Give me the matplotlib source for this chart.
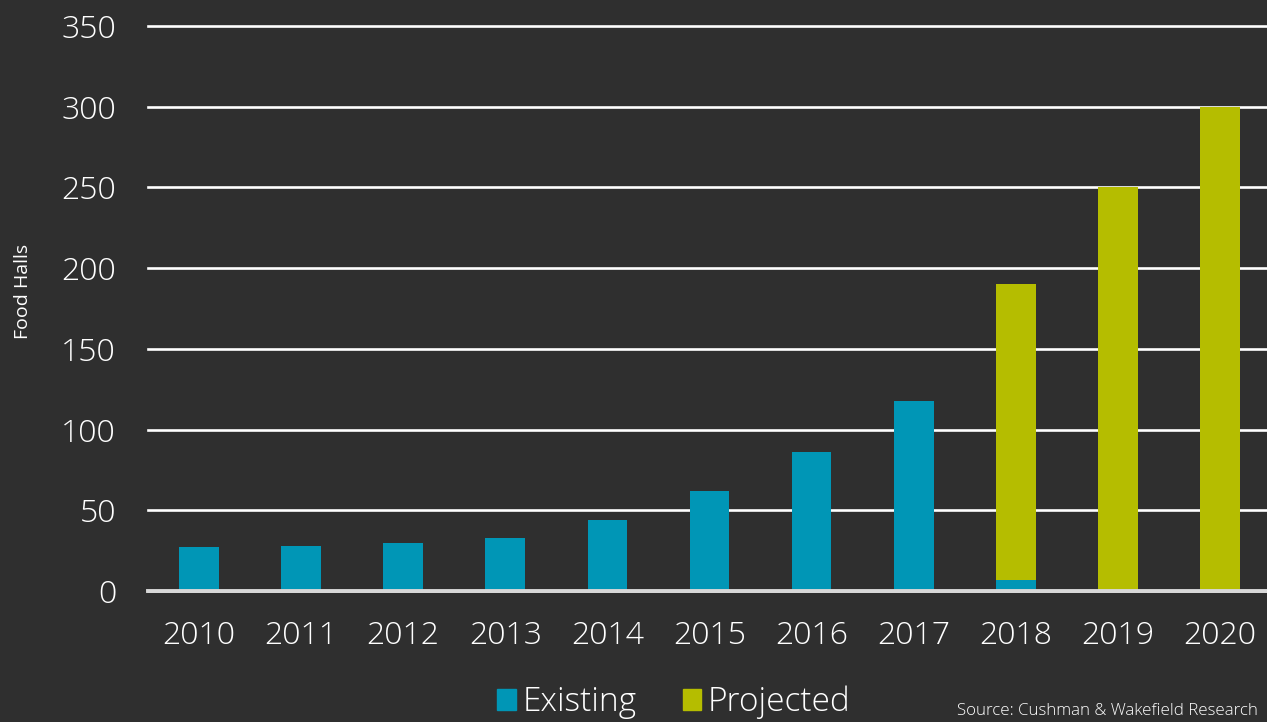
import matplotlib
matplotlib.use("Agg")
import matplotlib.pyplot as plt
from matplotlib.patches import Patch

years = ["2010", "2011", "2012", "2013", "2014", "2015", "2016", "2017", "2018", "2019", "2020"]
existing = [27, 28, 30, 33, 44, 62, 86, 118, 7, 0, 0]
projected = [0, 0, 0, 0, 0, 0, 0, 0, 183, 250, 300]
yticks = [0, 50, 100, 150, 200, 250, 300, 350]

teal = "#0096b6"
olive = "#b5bd00"
bg = "#2f2f2f"

plt.rcParams["font.family"] = ["Open Sans", "DejaVu Sans"]
plt.rcParams["font.weight"] = "light"

fig = plt.figure(figsize=(12.67, 7.22), dpi=100, facecolor=bg)
ax = fig.add_axes([148 / 1267, 131 / 722, 1123 / 1267, 565 / 722])
ax.set_facecolor(bg)

x = list(range(len(years)))
ax.bar(x, existing, width=0.39, color=teal, zorder=3)
ax.bar(x, projected, width=0.39, bottom=existing, color=olive, zorder=3)

ax.set_xlim(-0.5, 10.5)
ax.set_ylim(0, 350)
ax.set_yticks(yticks)
ax.set_xticks(x)
ax.set_xticklabels(years)
ax.tick_params(axis="both", length=0, colors="white", labelsize=23)
ax.tick_params(axis="y", pad=23)
ax.tick_params(axis="x", pad=21)

ax.grid(axis="y", color="white", linewidth=1.9, zorder=1)
for line in ax.get_ygridlines():
    line.set_clip_on(False)
ax.axhline(0, color="#d8d8d8", linewidth=2.8, zorder=4, clip_on=False)
for s in ax.spines.values():
    s.set_visible(False)

ax.set_ylabel("Food Halls", color="white", fontsize=14)
ax.yaxis.set_label_coords(-0.103, 0.53)

handles = [Patch(color=teal, label="Existing"), Patch(color=olive, label="Projected")]
fig.legend(handles=handles, loc="center", bbox_to_anchor=(0.532, 0.027), ncol=2,
           frameon=False, fontsize=24, labelcolor="white", handlelength=0.55,
           handleheight=0.55, handletextpad=0.2, columnspacing=1.4)

fig.text(957 / 1267, 0.004, "Source: Cushman & Wakefield Research", color="white",
         fontsize=12.2, ha="left", va="bottom")

fig.savefig("out.png", dpi=100, facecolor=bg)
